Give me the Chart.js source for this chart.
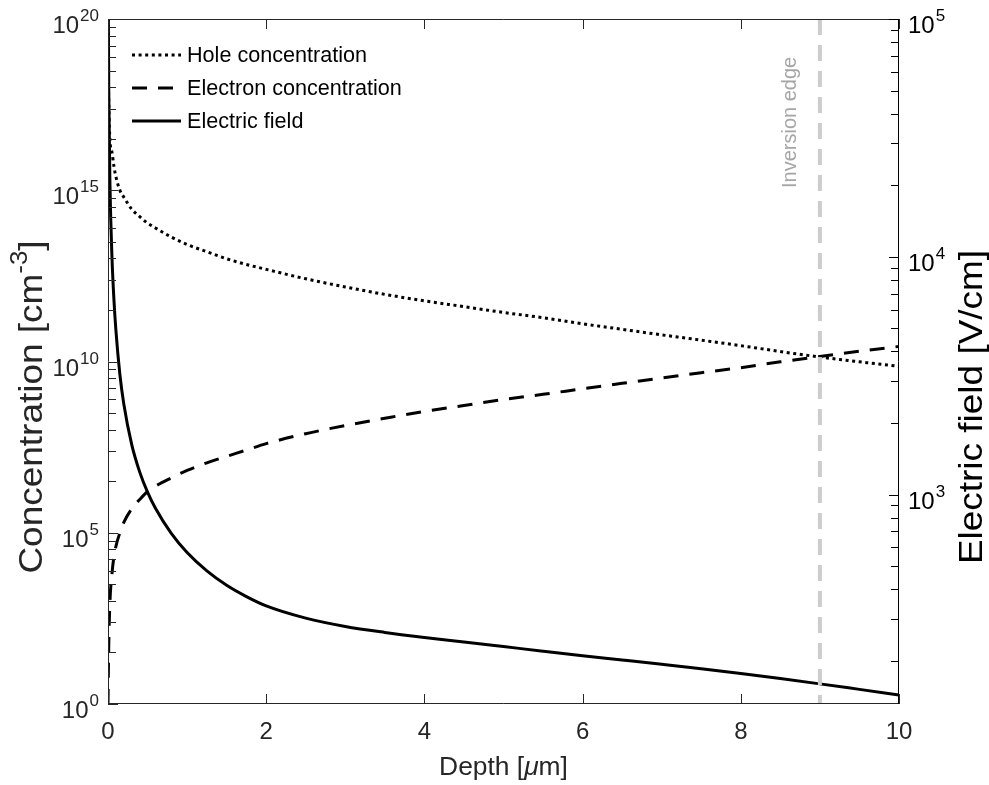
<!DOCTYPE html>
<html>
<head>
<meta charset="utf-8">
<title>Concentration and electric field vs depth</title>
<script src="https://cdn.jsdelivr.net/npm/chart.js@4/dist/chart.umd.min.js"></script>
<style>
  html, body { margin: 0; padding: 0; background: #fff; }
</style>
</head>
<body>
<canvas id="myChart" width="989" height="785"></canvas>
<script>
// depth in micrometres
const depth = [0, 0.005, 0.01, 0.025, 0.05, 0.075, 0.1, 0.15, 0.2, 0.3, 0.4, 0.5, 0.6, 0.8, 1, 1.25, 1.5, 1.75,
  2, 2.5, 3, 3.5, 4, 4.5, 5, 5.5, 6, 6.5, 7, 7.5, 8, 8.5, 9, 9.5, 10];
// cm^-3
const holeConc = [1e20, 2e18, 3.2e17, 2.8e16, 1.3e16, 5.0e15, 2.5e15, 1.0e15, 6.3e14, 2.8e14, 1.7e14, 1.1e14, 7.9e13,
  4.3e13, 2.6e13, 1.6e13, 1.0e13, 6.8e12, 4.9e12, 2.6e12, 1.5e12, 9.1e11, 5.9e11, 4.0e11, 2.7e11, 1.9e11, 1.26e11,
  8.7e10, 6.0e10, 4.2e10, 2.9e10, 1.95e10, 1.35e10, 9.8e9, 7.2e9];
const electronConc = [1, 10, 63, 1.0e3, 6.3e3, 2.0e4, 4.0e4, 1.0e5, 2.0e5, 5.0e5, 9.3e5, 1.6e6, 2.3e6, 4.0e6, 6.6e6,
  1.1e7, 1.7e7, 2.6e7, 4.0e7, 7.8e7, 1.35e8, 2.2e8, 3.5e8, 5.2e8, 7.8e8, 1.1e9, 1.6e9, 2.3e9, 3.3e9, 4.7e9, 6.6e9,
  9.8e9, 1.4e10, 2.0e10, 2.75e10];
// V/cm
const eField = [2.0e5, 9.5e4, 4.8e4, 2.0e4, 1.0e4, 6.6e3, 4.9e3, 3.2e3, 2.4e3, 1.62e3, 1.245e3, 1.023e3, 875, 686,
  570, 477, 415, 372, 340, 302, 278.6, 263, 250.6, 239.9, 229.4, 219.3, 209.9, 201.4, 193.2, 185.1, 176.8, 168.3,
  159.8, 151.5, 143.6];

const inversionEdge = 9;
const xTicks = [0, 2, 4, 6, 8, 10];
const concExps = [0, 5, 10, 15, 20];
const fieldExps = [3, 4, 5];
const fieldMin = 131.5;

const FONT = '"Liberation Sans", Arial, Helvetica, sans-serif';
const GRAY = '#262626';

const pts = ys => depth.map((d, i) => ({x: d, y: ys[i]}));

function drawPow(ctx, exp, x, y, align) {
  ctx.textBaseline = 'alphabetic';
  ctx.textAlign = 'left';
  ctx.font = '24px ' + FONT;
  const bw = ctx.measureText('10').width;
  ctx.font = '17px ' + FONT;
  const ew = ctx.measureText(String(exp)).width;
  const x0 = align === 'right' ? x - bw - ew - 1 : x;
  ctx.font = '24px ' + FONT;
  ctx.fillText('10', x0, y + 14);
  ctx.font = '17px ' + FONT;
  ctx.fillText(String(exp), x0 + bw + 1, y + 2);
}

// run of text parts centred on 0 along the baseline (sup = raised, it = italic)
function drawParts(ctx, parts, size) {
  const fontOf = p => (p.it ? 'italic ' : '') + (p.sup ? size * 0.7 : size) + 'px ' + FONT;
  ctx.textBaseline = 'alphabetic';
  ctx.textAlign = 'left';
  let total = 0;
  parts.forEach(p => { ctx.font = fontOf(p); p.w = ctx.measureText(p.t).width; total += p.w; });
  let x = -total / 2;
  parts.forEach(p => {
    ctx.font = fontOf(p);
    ctx.fillText(p.t, x, p.sup ? -size * 0.45 : 0);
    x += p.w;
  });
}

// text reading bottom-to-top, centred on cy, baseline at bx
function drawUpText(ctx, parts, bx, cy, size, stretch) {
  ctx.save();
  ctx.translate(bx, cy);
  ctx.rotate(-Math.PI / 2);
  ctx.scale(stretch, 1);
  drawParts(ctx, parts, size);
  ctx.restore();
}

const matlabAxes = {
  id: 'matlabAxes',
  afterDatasetsDraw(chart) {
    const {ctx, chartArea: a, scales} = chart;
    const sx = scales.x, yl = scales.y, yr = scales.y1;
    ctx.save();

    // inversion edge label
    ctx.save();
    ctx.translate(796, 188);
    ctx.rotate(-Math.PI / 2);
    ctx.font = '20px ' + FONT;
    ctx.fillStyle = '#a6a6a6';
    ctx.textAlign = 'left';
    ctx.textBaseline = 'alphabetic';
    ctx.fillText('Inversion edge', 0, 0);
    ctx.restore();

    // box
    ctx.lineWidth = 1;
    ctx.strokeStyle = GRAY;
    ctx.beginPath();
    ctx.moveTo(a.right, a.top + 0.5);
    ctx.lineTo(a.left + 0.5, a.top + 0.5);
    ctx.lineTo(a.left + 0.5, a.bottom - 0.5);
    ctx.lineTo(a.right, a.bottom - 0.5);
    ctx.stroke();
    ctx.strokeStyle = '#000';
    ctx.beginPath();
    ctx.moveTo(a.right - 0.5, a.top);
    ctx.lineTo(a.right - 0.5, a.bottom);
    ctx.stroke();

    // x ticks, bottom and top, pointing in
    ctx.strokeStyle = GRAY;
    ctx.beginPath();
    xTicks.forEach(v => {
      const px = Math.round(sx.getPixelForValue(v)) + 0.5;
      ctx.moveTo(px, a.bottom); ctx.lineTo(px, a.bottom - 10);
      ctx.moveTo(px, a.top); ctx.lineTo(px, a.top + 10);
    });
    // left ticks
    concExps.forEach(e => {
      const py = Math.round(yl.getPixelForValue(Math.pow(10, e))) + 0.5;
      ctx.moveTo(a.left, py); ctx.lineTo(a.left + 10, py);
      if (e < 20) {
        for (let k = 2; k <= 9; k++) {
          const my = Math.round(yl.getPixelForValue(Math.pow(10, e + 5 * Math.log10(k)))) + 0.5;
          ctx.moveTo(a.left, my); ctx.lineTo(a.left + 8, my);
        }
      }
    });
    ctx.stroke();

    // right ticks
    ctx.strokeStyle = '#000';
    ctx.beginPath();
    for (let d = 2; d <= 4; d++) {
      for (let k = 1; k <= 9; k++) {
        const v = k * Math.pow(10, d);
        if (v < fieldMin) continue;
        const py = Math.round(yr.getPixelForValue(v)) + 0.5;
        ctx.moveTo(a.right, py); ctx.lineTo(a.right - (k === 1 ? 10 : 8), py);
      }
    }
    const topY = Math.round(yr.getPixelForValue(1e5)) + 0.5;
    ctx.moveTo(a.right, topY); ctx.lineTo(a.right - 10, topY);
    ctx.stroke();

    // y tick labels
    ctx.fillStyle = GRAY;
    concExps.forEach(e => drawPow(ctx, e, a.left - 9, yl.getPixelForValue(Math.pow(10, e)), 'right'));
    ctx.fillStyle = '#000';
    fieldExps.forEach(e => drawPow(ctx, e, a.right + 9, yr.getPixelForValue(Math.pow(10, e)), 'left'));

    // axis titles
    ctx.fillStyle = GRAY;
    drawUpText(ctx, [{t: 'Concentration [cm'}, {t: '-3', sup: true}, {t: ']'}], 42, 407, 33, 1.12);
    ctx.save();
    ctx.translate((a.left + a.right) / 2, 775);
    drawParts(ctx, [{t: 'Depth ['}, {t: 'μ', it: true}, {t: 'm]'}], 26.4);
    ctx.restore();
    ctx.fillStyle = '#000';
    drawUpText(ctx, [{t: 'Electric field [V/cm]'}], 982, 407, 33, 1.12);

    // legend
    const rows = chart.data.datasets.filter(ds => ds.label);
    rows.forEach((ds, i) => {
      const y = 55 + i * 33;
      ctx.strokeStyle = '#000';
      ctx.lineWidth = ds.borderWidth;
      ctx.setLineDash(ds.borderDash || []);
      ctx.beginPath();
      ctx.moveTo(132, y); ctx.lineTo(181, y);
      ctx.stroke();
      ctx.setLineDash([]);
      ctx.fillStyle = '#000';
      ctx.font = '21.6px ' + FONT;
      ctx.textAlign = 'left';
      ctx.textBaseline = 'middle';
      ctx.fillText(ds.label, 187, y + 1);
    });
    ctx.restore();
  }
};

new Chart(document.getElementById('myChart'), {
  type: 'line',
  data: {
    datasets: [
      {
        data: [{x: inversionEdge, y: 1e20}, {x: inversionEdge, y: 1}],
        yAxisID: 'y', borderColor: '#cccccc', borderWidth: 4, borderDash: [16, 10]
      },
      {
        label: 'Hole concentration', data: pts(holeConc), yAxisID: 'y',
        borderColor: '#000', borderWidth: 3, borderDash: [3, 3.6], cubicInterpolationMode: 'monotone'
      },
      {
        label: 'Electron concentration', data: pts(electronConc), yAxisID: 'y',
        borderColor: '#000', borderWidth: 3, borderDash: [15, 11], cubicInterpolationMode: 'monotone'
      },
      {
        label: 'Electric field', data: pts(eField), yAxisID: 'y1',
        borderColor: '#000', borderWidth: 3, cubicInterpolationMode: 'monotone'
      }
    ]
  },
  options: {
    responsive: false,
    animation: false,
    events: [],
    layout: {padding: {top: 19, left: 0, right: 0, bottom: 0}},
    elements: {point: {radius: 0}, line: {borderCapStyle: 'butt'}},
    plugins: {legend: {display: false}, tooltip: {enabled: false}},
    scales: {
      x: {
        type: 'linear', min: 0, max: 10,
        grid: {display: false, drawTicks: false},
        border: {display: false},
        ticks: {stepSize: 2, color: GRAY, padding: 14, maxRotation: 0, font: {family: FONT, size: 24}},
        afterFit: s => { s.height = 81; }
      },
      y: {
        type: 'logarithmic', position: 'left', min: 1, max: 1e20,
        grid: {display: false, drawTicks: false},
        border: {display: false},
        ticks: {display: false},
        afterFit: s => { s.width = 108; }
      },
      y1: {
        type: 'logarithmic', position: 'right', min: fieldMin, max: 1e5,
        grid: {display: false, drawTicks: false},
        border: {display: false},
        ticks: {display: false},
        afterFit: s => { s.width = 90; }
      }
    }
  },
  plugins: [matlabAxes]
});
</script>
</body>
</html>
